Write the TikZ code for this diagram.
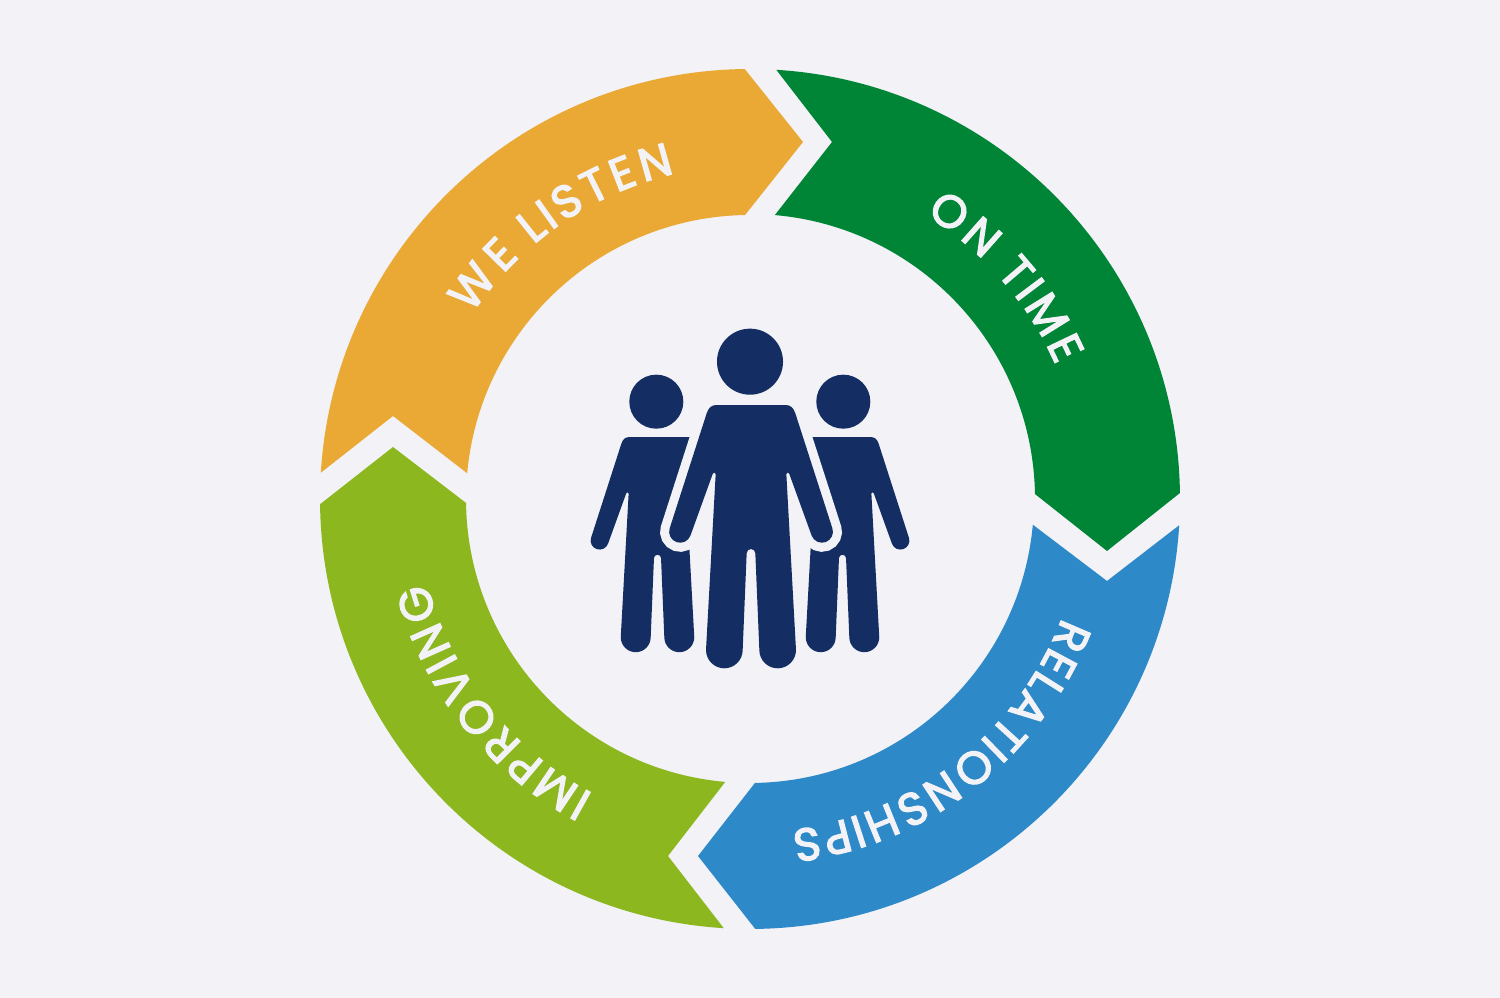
\documentclass[tikz,border=0pt]{standalone}
\usepackage{fontspec}
\usepackage{xcolor}
\usepackage{tikz}
\usetikzlibrary{decorations.text}
\newfontfamily\bandfont[FakeBold=3]{Poppins}

\definecolor{paper}{HTML}{F2F2F7}
\definecolor{listen}{HTML}{EAA935}
\definecolor{ontime}{HTML}{008537}
\definecolor{relate}{HTML}{2D89C8}
\definecolor{improve}{HTML}{8DB71F}
\definecolor{people}{HTML}{142E63}

\begin{document}
\begin{tikzpicture}[x=0.01cm, y=0.01cm]
            % Define block styles
            \tikzstyle{head} = [circle, fill=people, inner sep=0pt]
            \tikzset{bandtext/.style={decorate, decoration={text effects along path, text={#1},
                text effects/.cd, text along path, fit text to path,
                characters={text=paper, font=\fontsize{13}{13}\bandfont}}}}

            % Outline of a figure, the arm and leg ends are half circles
            \newcommand{\fullbody}{(-103,-130) .. controls (-118,-130) and (-127,-137) .. (-133,-155) -- (-244,-500)
                arc[start angle=162, end angle=339, radius=33] -- (-115,-337)
                arc[start angle=180, end angle=0, radius=4.5] -- (-135,-865)
                arc[start angle=180, end angle=360, radius=55] -- (-13,-575)
                arc[start angle=180, end angle=0, radius=13] -- (25,-865)
                arc[start angle=180, end angle=360, radius=55] -- (106,-337)
                arc[start angle=180, end angle=0, radius=4.5] -- (182,-522)
                arc[start angle=201, end angle=378, radius=33] -- (133,-155)
                .. controls (127,-137) and (118,-130) .. (103,-130) -- cycle}
            % The same, without the arm that stands behind the middle figure
            \newcommand{\sidebody}{(-103,-130) .. controls (-118,-130) and (-127,-137) .. (-133,-155) -- (-244,-500)
                arc[start angle=162, end angle=339, radius=33] -- (-115,-337)
                arc[start angle=180, end angle=0, radius=4.5] -- (-135,-865)
                arc[start angle=180, end angle=360, radius=55] -- (-13,-575)
                arc[start angle=180, end angle=0, radius=13] -- (25,-865)
                arc[start angle=180, end angle=360, radius=55] -- (106,-337) -- (144,-130) -- cycle}

            \fill[paper] (0,0) rectangle (1500,998);

            \begin{scope}[shift={(750,499)}]
                % Arrows of the ring
                \fill[listen] (176.5:430) arc[start angle=176.5, end angle=90.7, radius=430] -- (53,357)
                    -- (91:284) arc[start angle=91, end angle=174.8, radius=284] -- (-357,83) -- cycle;
                \fill[ontime] (86.5:430) arc[start angle=86.5, end angle=0.8, radius=430] -- (357,-52)
                    -- (1:285) arc[start angle=1, end angle=85, radius=285] -- (82,357) -- cycle;
                \fill[relate] (-3.5:430) arc[start angle=-3.5, end angle=-89.3, radius=430] -- (-52,-357)
                    -- (-89:284) arc[start angle=-89, end angle=-5.2, radius=284] -- (357,-82) -- cycle;
                \fill[improve] (266.5:430) arc[start angle=266.5, end angle=180.7, radius=430] -- (-357,52)
                    -- (180.8:284) arc[start angle=180.8, end angle=265, radius=284] -- (-82,-357) -- cycle;

                % Labels
                \path[bandtext={WE LISTEN}] (146.4:334) arc[start angle=146.4, end angle=103, radius=334];
                \path[bandtext={ON TIME}] (58.3:334) arc[start angle=58.3, end angle=23.6, radius=334];
                \path[bandtext={RELATIONSHIPS}] (-20.8:334) arc[start angle=-20.8, end angle=-82.9, radius=334];
                \path[bandtext={IMPROVING}] (-118:334) arc[start angle=-118, end angle=-165.5, radius=334];
            \end{scope}

            % Figures
            \begin{scope}[shift={(657.5,596.3)}, scale=0.2723]
                \fill[people] \sidebody;
            \end{scope}
            \begin{scope}[shift={(842.5,596.3)}, xscale=-0.2723, yscale=0.2723]
                \fill[people] \sidebody;
            \end{scope}
            \begin{scope}[shift={(751,636.3)}, scale=0.3333]
                \fill[people, preaction={draw=paper, line width=1.8mm}] \fullbody;
            \end{scope}
            \node[head, minimum size=5.4mm] at (656.3,596.3) (headl) {};
            \node[head, minimum size=5.4mm] at (843.3,596.3) (headr) {};
            \node[head, minimum size=6.6mm] at (750,636.3) (headm) {};
\end{tikzpicture}
\end{document}
